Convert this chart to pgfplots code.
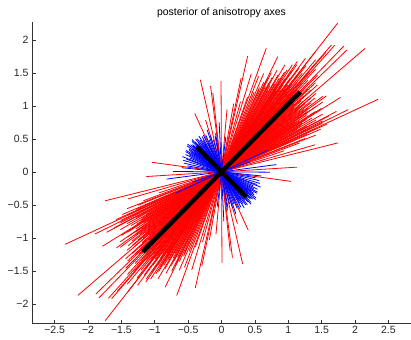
\documentclass[border=0pt]{standalone}
\usepackage{pgfplots}
\pgfplotsset{compat=1.18}
\usepackage{pgfplotstable}
\usepackage{fontspec}
\setmainfont{Liberation Sans}
\usetikzlibrary{calc}

% red axis samples: angle (deg), half-length
\pgfplotstableread{
t r
52.3 2.85
41.0 2.85
25.1 2.59
14.1 1.80
3.6 1.13
172.1 1.05
70.3 1.99
77.4 1.80
102.8 1.43
90.3 1.38
97.2 1.31
114.4 0.97
106.9 0.82
44.5 2.64
46.1 2.65
48.5 2.56
49.2 2.39
64.2 1.94
32.3 2.11
26.4 2.12
21.5 1.52
27.8 1.82
73.3 1.55
78.3 1.45
96.2 1.20
34.9 1.85
49.4 2.53
52.3 2.29
53.8 2.13
55.8 2.02
56.8 1.94
57.5 1.83
57.4 1.69
62.2 1.52
65.7 1.36
57.0 1.54
38.6 1.79
35.4 1.58
31.4 1.42
16.3 1.46
50.3 2.21
26.0 1.68
18.8 0.99
54.8 0.84
22.0 1.35
23.5 1.62
24.0 1.40
25.0 1.55
26.5 1.48
27.0 1.70
28.5 1.45
29.0 1.62
30.0 1.75
30.5 1.38
31.0 1.58
32.0 1.50
33.0 1.68
33.5 1.40
34.0 1.55
35.0 1.72
36.0 1.48
36.5 1.62
37.0 1.90
37.5 1.55
38.0 1.70
39.0 1.48
39.5 1.62
40.0 1.85
40.5 1.55
41.0 1.72
42.0 1.60
42.5 1.95
43.0 1.68
43.5 1.50
44.0 1.80
45.0 1.62
45.5 2.05
46.0 1.72
46.5 1.55
47.0 1.90
47.5 1.68
48.0 1.80
48.5 1.58
49.0 2.00
50.0 1.75
50.5 1.62
51.0 1.92
51.5 1.70
52.0 1.85
53.0 1.65
53.5 1.95
54.0 1.75
55.0 1.60
55.5 1.85
56.0 1.70
57.5 1.60
58.0 1.78
59.0 1.55
60.0 1.70
61.0 1.50
62.0 1.62
63.0 1.45
64.0 1.58
66.0 1.40
68.0 1.30
69.0 1.55
71.0 1.20
75.0 1.10
80.0 1.05
85.0 0.95
29.7 1.30
32.7 1.78
34.4 1.33
36.2 1.95
38.3 1.38
39.8 1.74
41.6 1.45
42.8 1.82
44.3 1.40
45.2 1.76
46.8 1.42
47.8 2.10
48.9 1.47
50.8 1.52
51.8 2.05
52.6 1.58
54.4 1.52
55.2 1.98
56.4 1.48
58.6 1.66
59.6 1.88
60.6 1.42
61.6 1.75
63.6 1.68
65.0 1.50
67.0 1.62
28.0 1.95
24.6 1.74
20.5 1.25
43.8 1.95
}\redlines

% blue axis samples: angle (deg), half-length
\pgfplotstableread{
t r
92.7 0.75
83.0 0.53
100.0 0.55
98.7 0.59
104.0 0.50
106.8 0.57
108.7 0.67
111.0 0.52
113.0 0.60
115.0 0.48
116.0 0.62
118.5 0.61
120.0 0.55
121.0 0.50
122.0 0.64
123.8 0.58
125.0 0.52
126.0 0.62
127.9 0.63
129.0 0.55
130.0 0.48
131.0 0.60
132.0 0.66
133.7 0.64
134.5 0.55
135.5 0.50
136.5 0.60
137.5 0.58
138.5 0.62
139.5 0.52
140.5 0.66
141.5 0.56
142.6 0.65
143.5 0.50
144.5 0.60
146.0 0.58
147.0 0.54
148.5 0.62
150.3 0.62
152.0 0.55
154.0 0.60
156.0 0.52
158.5 0.63
160.0 0.56
163.0 0.60
166.8 0.58
170.0 0.52
174.0 0.60
179.6 0.725
7.6 0.83
25.2 0.76
19.7 0.46
}\bluelines

\begin{document}
\begin{tikzpicture}
\begin{axis}[
  scale only axis,
  width=379pt, height=301pt,
  xmin=-2.84, xmax=2.84,
  ymin=-2.29, ymax=2.27,
  axis x line=bottom, axis y line=left,
  axis line style={-, black!80, line width=0.6pt},
  tick align=inside,
  major tick length=3.5pt,
  tick style={black!80, line width=0.6pt},
  xtick={-2.5,-2,-1.5,-1,-0.5,0,0.5,1,1.5,2,2.5},
  xticklabels={−2.5,−2,−1.5,−1,−0.5,0,0.5,1,1.5,2,2.5},
  ytick={-2,-1.5,-1,-0.5,0,0.5,1,1.5,2},
  yticklabels={−2,−1.5,−1,−0.5,0,0.5,1,1.5,2},
  ticklabel style={font=\fontsize{10.5}{12}\selectfont, text=black!85},
  title={posterior of anisotropy axes},
  title style={font=\fontsize{10.5}{12}\selectfont, at={(0.5,1)}, anchor=base, yshift=0pt},
  clip=true,
]
\addplot[red, line width=0.8pt,
  quiver={u={2*\thisrow{r}*cos(\thisrow{t})}, v={2*\thisrow{r}*sin(\thisrow{t})}}]
  table[x expr={-\thisrow{r}*cos(\thisrow{t})}, y expr={-\thisrow{r}*sin(\thisrow{t})}] {\redlines};
\addplot[blue, line width=0.8pt,
  quiver={u={2*\thisrow{r}*cos(\thisrow{t})}, v={2*\thisrow{r}*sin(\thisrow{t})}}]
  table[x expr={-\thisrow{r}*cos(\thisrow{t})}, y expr={-\thisrow{r}*sin(\thisrow{t})}] {\bluelines};
\addplot[black, line width=4.5pt] coordinates {(-1.18,-1.21) (1.18,1.21)};
\addplot[black, line width=4.5pt] coordinates {(-0.37,0.38) (0.37,-0.38)};
\end{axis}
\pgfresetboundingbox
\path ($(current axis.south west)+(-32pt,-16pt)$) rectangle ($(current axis.north east)+(0pt,22pt)$);
\end{tikzpicture}
\end{document}
